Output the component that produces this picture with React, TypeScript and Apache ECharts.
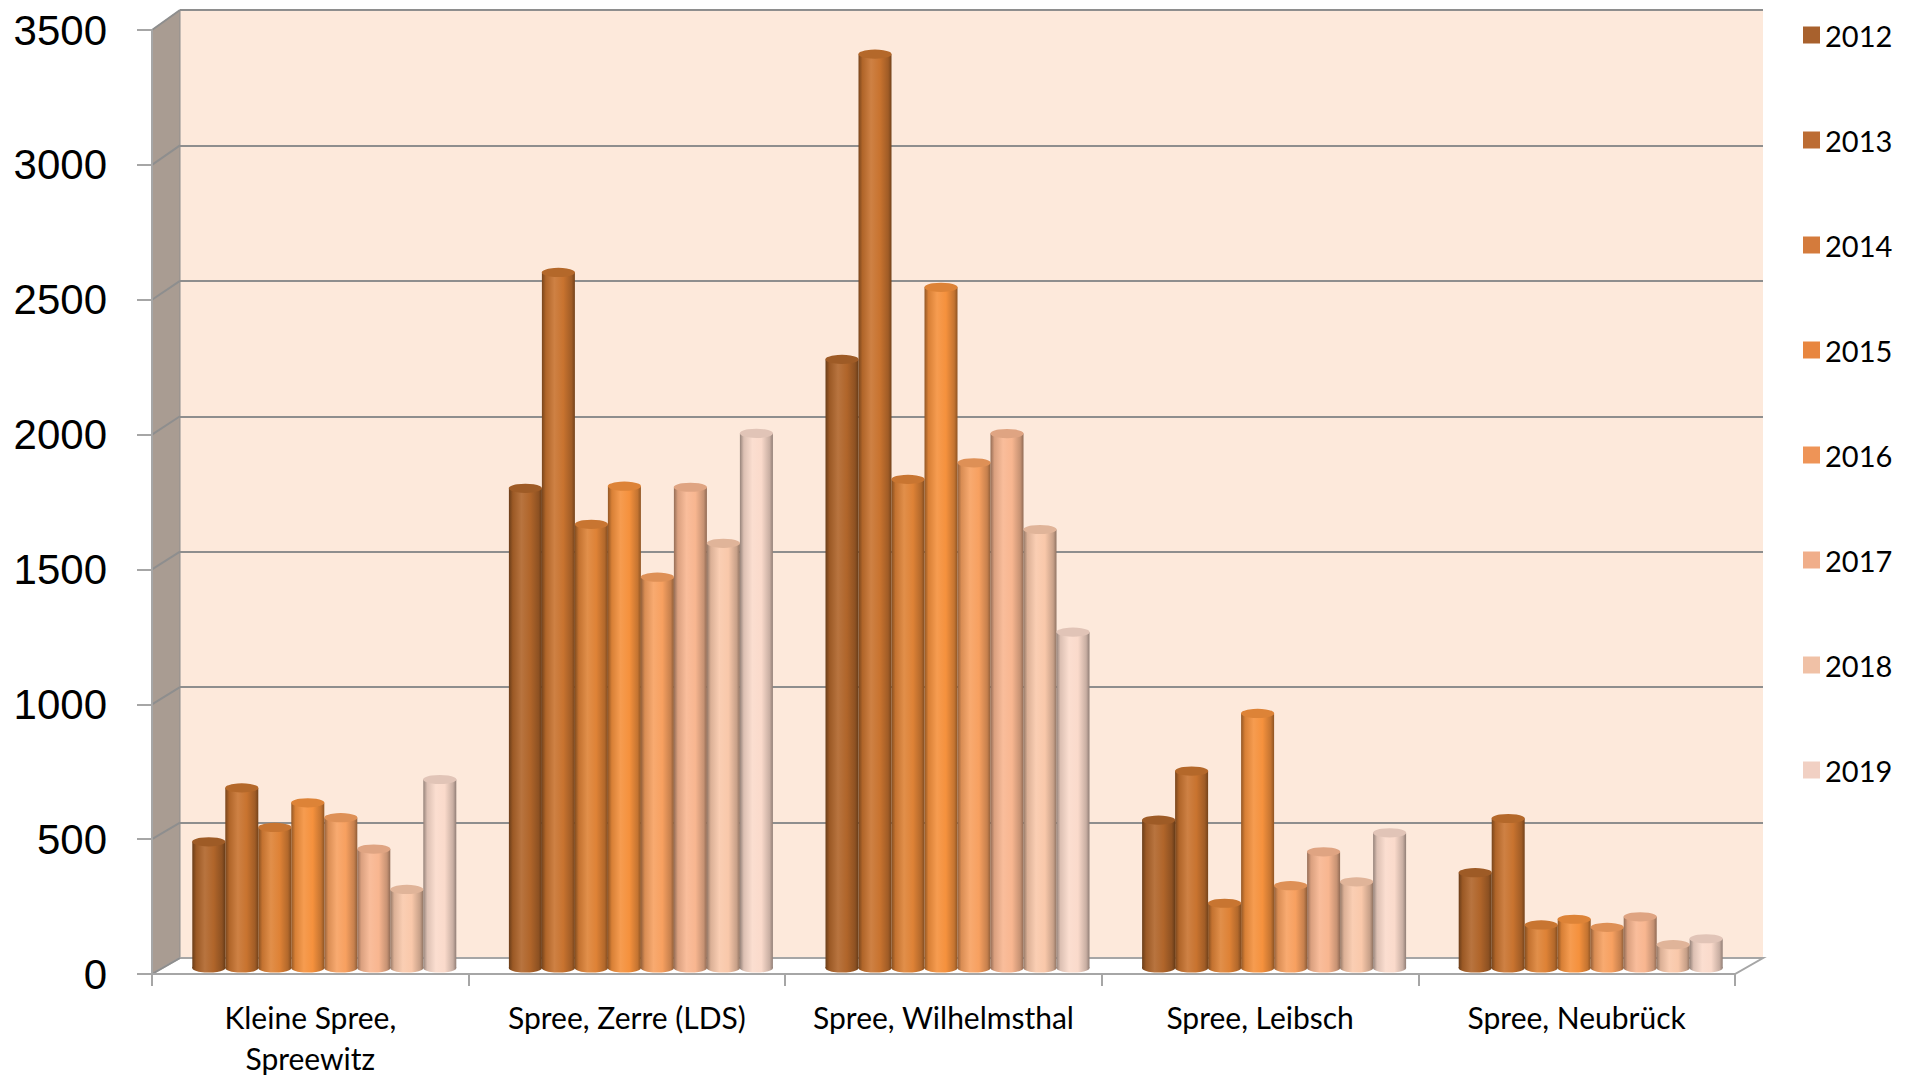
import React, { useEffect, useRef } from "react";
import * as echarts from "echarts";

// ---------- data ----------
const categories = [
  "Kleine Spree,\nSpreewitz",
  "Spree, Zerre (LDS)",
  "Spree, Wilhelmsthal",
  "Spree, Leibsch",
  "Spree, Neubrück",
];
const years = ["2012", "2013", "2014", "2015", "2016", "2017", "2018", "2019"];
const values2012 = [466, 1771, 2247, 546, 352];
const values2013 = [665, 2568, 3374, 727, 552];
const values2014 = [519, 1638, 1804, 239, 159];
const values2015 = [610, 1779, 2513, 940, 180];
const values2016 = [555, 1443, 1865, 304, 150];
const values2017 = [439, 1775, 1973, 429, 189];
const values2018 = [290, 1568, 1619, 318, 86];
const values2019 = [696, 1974, 1240, 499, 108];
const seriesValues = [
  values2012, values2013, values2014, values2015,
  values2016, values2017, values2018, values2019,
];
const yTicks = [0, 500, 1000, 1500, 2000, 2500, 3000, 3500];
const Y_MIN = 0;
const Y_MAX = 3500;
const Y_STEP = 500;

// ---------- styles ----------
const barColors = [
  "#B0652A", "#C8732F", "#DE8236", "#F5913D",
  "#F7A060", "#F8B690", "#F9C8AA", "#FADACB",
];
const legendColors = [
  "#A8612D", "#BC6C33", "#D47B3C", "#E8863F",
  "#EE9457", "#F0AE8A", "#F0C1A6", "#F1D0C3",
];

function mix(hex: string, amt: number) {
  const n = parseInt(hex.slice(1), 16);
  let r = (n >> 16) & 255;
  let g = (n >> 8) & 255;
  let b = n & 255;
  const t = amt < 0 ? 0 : 255;
  const p = Math.abs(amt);
  r = Math.round(r + (t - r) * p);
  g = Math.round(g + (t - g) * p);
  b = Math.round(b + (t - b) * p);
  return `rgb(${r},${g},${b})`;
}

const FRONT = { left: 152, top: 30, width: 1583, height: 948 };
const MID = { left: 166, top: 20, width: 1583, height: 948 };
const BACK = { left: 180, top: 10, width: 1583, height: 948 };
const BW = 33;
const GRID_COLOR = "#8E8E8E";
const AXIS_COLOR = "#A6A6A6";

export default function App() {
  const ref = useRef<HTMLDivElement>(null);

  useEffect(() => {
    const chart = echarts.init(ref.current!, null, { renderer: "svg" });

    const series: any[] = [];
    years.forEach((y, i) => {
      const base = barColors[i];
      const grad = {
        type: "linear",
        x: 0, y: 0, x2: 1, y2: 0,
        colorStops: [
          { offset: 0, color: mix(base, -0.4) },
          { offset: 0.12, color: mix(base, -0.12) },
          { offset: 0.38, color: mix(base, 0.1) },
          { offset: 0.65, color: base },
          { offset: 0.9, color: mix(base, -0.2) },
          { offset: 1, color: mix(base, -0.42) },
        ],
      };
      // bottom ellipse (own grid/axes so its cluster matches the bars)
      series.push({
        type: "pictorialBar",
        name: y + " base",
        xAxisIndex: 3,
        yAxisIndex: 3,
        data: seriesValues[i],
        symbol: "circle",
        symbolSize: [BW, 9],
        symbolPosition: "start",
        symbolOffset: [0, "50%"],
        barWidth: BW,
        barGap: "0%",
        itemStyle: { color: grad },
        z: 2,
        silent: true,
      });
      series.push({
        type: "bar",
        name: y,
        xAxisIndex: 1,
        yAxisIndex: 1,
        data: seriesValues[i],
        barWidth: BW,
        barGap: "0%",
        itemStyle: { color: grad },
        z: 3,
      });
      series.push({
        type: "pictorialBar",
        name: y + " top",
        xAxisIndex: 1,
        yAxisIndex: 1,
        data: seriesValues[i],
        symbol: "circle",
        symbolSize: [BW, 9],
        symbolPosition: "end",
        symbolOffset: [0, "-50%"],
        barWidth: BW,
        barGap: "0%",
        itemStyle: { color: mix(base, -0.1) },
        z: 4,
        silent: true,
      });
    });

    const hiddenCat = (gridIndex: number) => ({
      type: "category",
      gridIndex,
      data: categories,
      show: false,
    });
    const hiddenVal = (gridIndex: number) => ({
      type: "value",
      gridIndex,
      min: Y_MIN,
      max: Y_MAX,
      interval: Y_STEP,
      show: false,
      splitLine: { show: false },
    });

    chart.setOption({
      animation: false,
      backgroundColor: "#FFFFFF",
      grid: [
        { ...BACK, show: true, backgroundColor: "#FDE9DB", borderWidth: 0, z: 0 },
        { ...MID, show: false },
        { ...FRONT, show: false },
        { ...MID, show: false },
      ],
      legend: {
        orient: "vertical",
        left: 1798,
        top: 15,
        itemWidth: 17,
        itemHeight: 17,
        itemGap: 75,
        icon: "rect",
        selectedMode: false,
        textStyle: {
          fontFamily: "Lato",
          fontSize: 29,
          lineHeight: 30,
          color: "#000000",
        },
        data: years.map((y, i) => ({ name: y, itemStyle: { color: legendColors[i] } })),
      },
      xAxis: [
        hiddenCat(0),
        hiddenCat(1),
        {
          type: "category",
          gridIndex: 2,
          data: categories,
          z: 6,
          axisLine: { show: true, lineStyle: { color: AXIS_COLOR, width: 2 } },
          axisTick: { show: true, length: 12, lineStyle: { color: AXIS_COLOR, width: 2 } },
          axisLabel: {
            interval: 0,
            color: "#000000",
            fontFamily: "Lato",
            fontSize: 30,
            lineHeight: 41,
            margin: 22,
          },
          splitLine: { show: false },
        },
        hiddenCat(3),
      ],
      yAxis: [
        {
          type: "value",
          gridIndex: 0,
          min: Y_MIN,
          max: Y_MAX,
          interval: Y_STEP,
          axisLine: { show: false },
          axisTick: { show: false },
          axisLabel: { show: false },
          splitLine: { show: true, lineStyle: { color: GRID_COLOR, width: 2 } },
        },
        hiddenVal(1),
        {
          type: "value",
          gridIndex: 2,
          min: Y_MIN,
          max: Y_MAX,
          interval: Y_STEP,
          z: 6,
          axisLine: { show: true, lineStyle: { color: AXIS_COLOR, width: 2 } },
          axisTick: { show: true, length: 15, lineStyle: { color: AXIS_COLOR, width: 2 } },
          axisLabel: {
            color: "#000000",
            fontFamily: "Liberation Sans",
            fontSize: 42,
            margin: 45,
            formatter: (v: number) => String(v),
          },
          splitLine: { show: false },
        },
        hiddenVal(3),
      ],
      series,
    });

    // 3D walls drawn from the axes' own scales
    const yF = (v: number) => chart.convertToPixel({ yAxisIndex: 2 }, v) as number;
    const yB = (v: number) => chart.convertToPixel({ yAxisIndex: 0 }, v) as number;
    const FL = FRONT.left;
    const FR = FRONT.left + FRONT.width;
    const BL = BACK.left;
    const BR = BACK.left + BACK.width;
    const graphics: any[] = [
      {
        type: "polygon",
        z: 1,
        shape: {
          points: [[FL, yF(Y_MAX)], [BL, yB(Y_MAX)], [BL, yB(Y_MIN)], [FL, yF(Y_MIN)]],
        },
        style: { fill: "#A99C92", stroke: GRID_COLOR, lineWidth: 1 },
      },
      {
        type: "polygon",
        z: 1,
        shape: {
          points: [[FL, yF(Y_MIN)], [BL, yB(Y_MIN)], [BR, yB(Y_MIN)], [FR, yF(Y_MIN)]],
        },
        style: { fill: "#FFFFFF", stroke: AXIS_COLOR, lineWidth: 2 },
      },
    ];
    yTicks.forEach((v) => {
      graphics.push({
        type: "line",
        z: 1,
        shape: { x1: FL, y1: yF(v), x2: BL, y2: yB(v) },
        style: { stroke: GRID_COLOR, lineWidth: 2 },
      });
    });
    chart.setOption({ graphic: graphics });

    return () => chart.dispose();
  }, []);

  return (
    <div
      ref={ref}
      style={{ position: "absolute", left: 0, top: 0, width: 1910, height: 1078, background: "#fff" }}
    />
  );
}
